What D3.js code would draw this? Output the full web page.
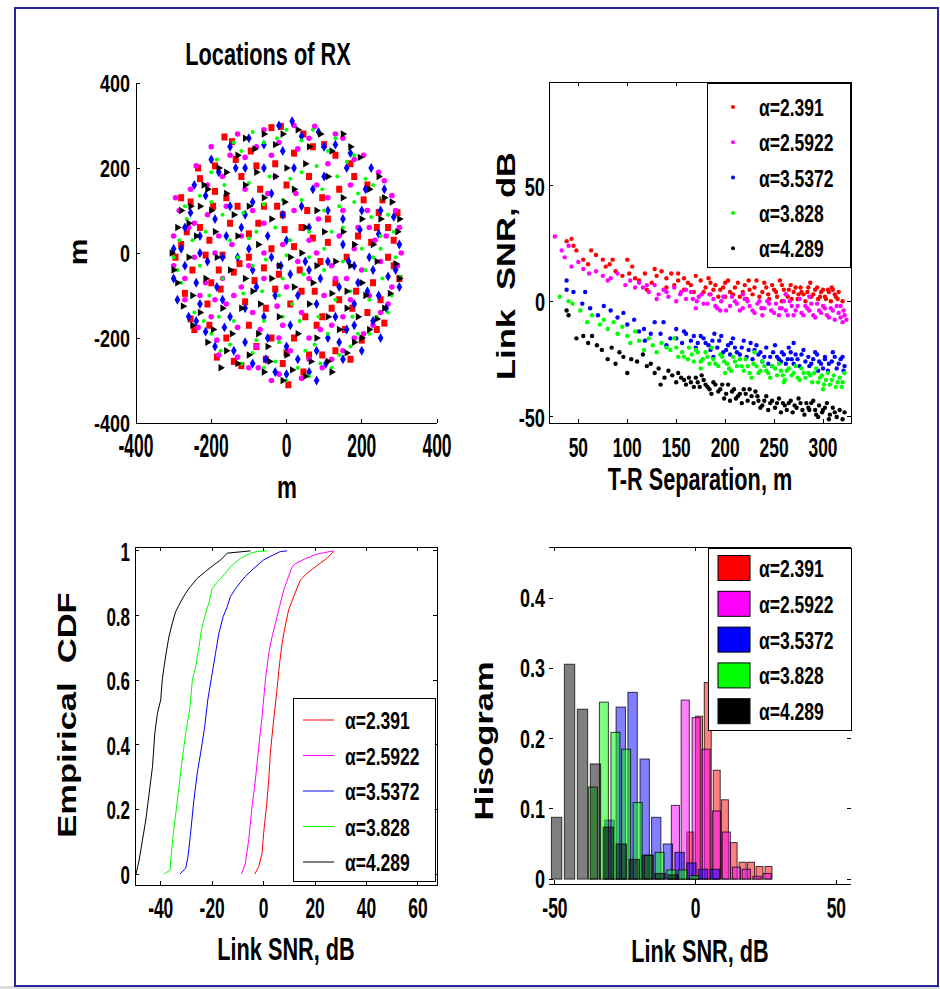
<!DOCTYPE html>
<html>
<head>
<meta charset="utf-8">
<script src="https://cdn.jsdelivr.net/npm/d3@7/dist/d3.min.js"></script>
<style>
  body { margin: 0; background: #fff; }
  text { font-family: "Liberation Sans", Arial, sans-serif; fill: #000; white-space: pre; }
</style>
</head>
<body>
<div id="chart"></div>
<script>
// series
const seriesNames = ['α=2.391', 'α=2.5922', 'α=3.5372', 'α=3.828', 'α=4.289'];
const seriesColors = ['#ff0000', '#ff00ff', '#0000ff', '#00ff00', '#000000'];

// RX locations, m  [x, y]
const rxRed = [[-165,273],[-145,262],[-95,240],[-40,295],[-15,298],[45,280],[100,255],[-235,200],[-230,175],[-190,145],[-195,110],[-160,130],[-120,180],[-70,150],[-25,110],[-5,55],[55,100],[95,130],[170,210],[215,160],[245,95],[270,60],[225,25],[190,40],[160,-10],[110,25],[70,35],[35,-40],[-20,-50],[-60,-35],[-100,-10],[-140,-45],[-180,-40],[-230,60],[-265,50],[-295,-10],[-270,-95],[-255,-155],[-245,-180],[-185,-245],[-140,-255],[-120,-265],[-80,-220],[-40,-200],[0,-235],[5,-310],[-10,-260],[45,-280],[80,-170],[120,-130],[155,-180],[200,-205],[240,-180],[260,-165],[230,-70],[270,-10],[300,-60],[295,95],[255,125],[130,-70],[75,-90],[-55,-130],[-110,-115],[-175,-85],[-150,70],[-100,45],[-40,10],[20,15],[140,150],[60,180],[0,160],[-75,70],[185,-90],[95,-240],[-210,-120],
  [-280,20],[-250,-40],[-215,-5],[-205,30],[-170,-5],[-125,-25],[-85,-65],[-30,-85],[10,-120],[50,-150],[95,-150],[140,-110],[175,-130],[215,-140],[250,-110],[285,-30],[285,30],[240,60],[205,125],[180,180],[130,230],[70,250],[20,235],[-30,210],[-80,205],[-135,220],[-190,205],[-255,120],[-280,130],[-205,-170],[-160,-200],[-100,-170],[-55,-250],[20,-200],[60,-240],[130,-230],[170,-250],[110,80],[40,60],[-10,90],[-60,110],[-130,110],[-200,-70],[90,-20],[40,-90]];
const rxMagenta = [[-240,205],[-200,250],[-130,280],[-60,290],[20,300],[75,298],[150,270],[205,230],[245,190],[280,135],[300,60],[305,0],[280,-80],[250,-140],[205,-190],[150,-230],[95,-270],[40,-295],[-20,-285],[-75,-270],[-130,-245],[-185,-205],[-235,-175],[-270,-110],[-300,-30],[-300,40],[-285,100],[-210,90],[-170,180],[-110,225],[-40,230],[30,245],[110,210],[170,160],[215,100],[235,30],[200,-40],[170,-110],[120,-170],[60,-200],[-10,-170],[-70,-180],[-130,-175],[-200,-150],[-215,-70],[-245,-10],[-190,0],[-145,20],[-90,100],[-30,180],[25,140],[85,80],[140,40],[120,-30],[60,-60],[0,-80],[-60,-60],[-120,-80],[-160,-120],[-90,-140],[-25,-125],[40,-140],[100,-100],[160,-60],[190,60],[150,100],[60,30],[-10,20],[-60,0],[-110,150],[-180,40],[250,-20],[265,40],[-255,150],[10,-230],
  [-295,130],[-260,60],[-230,-100],[-270,-60],[-180,-240],[-100,-270],[-40,-300],[60,-250],[120,-250],[180,-200],[230,-170],[270,-120],[295,-30],[290,100],[260,170],[180,220],[130,280],[60,270],[-20,260],[-80,250],[-150,230],[-210,160],[-160,110],[-120,40],[-60,70],[-20,-30],[30,-20],[80,0],[130,-60],[180,10],[220,60],[80,160],[20,100],[-50,140],[-100,-30],[-140,-100],[-190,-110],[-80,-220],[-20,-200],[90,-180],[150,-150],[220,-100],[-245,70],[110,130],[-170,-60]];
const rxBlue = [[-255,95],[-215,135],[-180,190],[-110,200],[-60,255],[15,310],[85,285],[130,255],[170,235],[225,200],[260,150],[285,85],[290,-40],[265,-130],[230,-160],[180,-170],[140,-210],[105,-260],[60,-280],[0,-285],[-55,-250],[-110,-210],[-165,-175],[-215,-185],[-260,-150],[-290,-110],[-300,-60],[-280,10],[-230,40],[-190,80],[-150,110],[-90,120],[-40,140],[-60,200],[20,200],[70,150],[110,100],[150,80],[195,55],[245,45],[220,-10],[180,-30],[140,-80],[90,-60],[50,-20],[0,30],[-50,40],[-120,60],[-170,-10],[-210,-20],[-240,-70],[-185,-80],[-130,-10],[-80,-80],[-30,-100],[30,-100],[80,-120],[130,-150],[180,-120],[215,-90],[245,-100],[60,60],[-10,90],[-90,-40],[-150,-150],[-60,-150],[10,-170],[110,-200],[40,110],[-135,200],[165,-20],[-15,-30],[270,-55],[-230,-120],
  [-300,10],[-270,60],[-245,160],[-200,220],[-150,250],[-100,270],[-20,300],[40,275],[100,250],[160,200],[210,150],[250,100],[300,20],[300,-80],[250,-200],[200,-230],[150,-250],[80,-300],[30,-250],[-30,-280],[-90,-260],[-140,-230],[-190,-220],[-240,-160],[-270,-30],[-230,0],[-160,40],[-100,10],[-40,-10],[10,-50],[60,-40],[110,-20],[150,20],[200,100],[230,-40],[190,-70],[160,-180],[80,-230],[0,-220],[-50,-200],[-110,-130],[-170,-110],[100,180],[-10,240],[-110,90]];
const rxGreen = [[-285,30],[-265,80],[-230,135],[-185,220],[-140,260],[-90,285],[-25,270],[40,265],[110,240],[160,215],[210,175],[255,130],[285,50],[300,-55],[280,-100],[240,-150],[190,-190],[140,-240],[90,-260],[30,-270],[-30,-255],[-90,-235],[-150,-215],[-200,-190],[-245,-140],[-280,-70],[-255,-10],[-215,50],[-170,90],[-115,95],[-60,115],[-10,125],[40,125],[95,150],[140,110],[180,120],[225,85],[250,10],[200,10],[150,-20],[100,-40],[45,-50],[-10,-60],[-65,-90],[-115,-95],[-170,-60],[-205,-100],[-140,-160],[-80,-205],[-20,-210],[35,-160],[85,-150],[130,-110],[175,-150],[220,-110],[210,-40],[120,50],[60,50],[0,-5],[-55,-15],[-100,35],[-165,160],[-100,165],[-45,180],[10,175],[80,205],[135,180],[190,140],[-230,-30],[-30,60],[15,-120],[255,-60],[-120,-260],[75,-215],[-200,190],
  [-300,-10],[-290,-40],[-270,110],[-250,-100],[-220,-160],[-175,-230],[-60,-270],[0,-300],[60,-290],[120,-270],[170,-220],[220,-190],[270,-140],[290,-10],[270,90],[230,160],[180,230],[130,270],[70,290],[0,290],[-60,260],[-120,240],[-200,120],[-150,30],[-90,-30],[-40,-60],[10,30],[60,-10],[100,10],[150,60],[170,-90],[110,-190],[50,-230],[-10,-150],[-60,-160],[-120,-130],[-180,-150],[-250,30],[-130,-10],[40,190],[100,100],[-80,50],[230,-10],[250,40],[-20,-100]];
const rxBlack = [[-305,0],[-290,60],[-255,110],[-220,160],[-180,200],[-130,230],[-85,245],[-30,255],[30,290],[90,280],[150,280],[195,225],[245,180],[280,120],[295,50],[290,-25],[275,-95],[240,-155],[200,-200],[160,-235],[110,-255],[65,-255],[15,-275],[-45,-255],[-100,-240],[-160,-230],[-210,-210],[-250,-170],[-275,-125],[-290,-70],[-240,40],[-200,100],[-160,140],[-110,160],[-60,130],[0,200],[50,210],[110,180],[150,130],[200,80],[250,80],[240,-20],[200,-70],[160,-90],[120,-95],[80,-30],[40,0],[-20,-30],[-75,20],[-130,40],[-185,-10],[-215,-60],[-170,-130],[-120,-130],[-70,-120],[-20,-150],[30,-190],[80,-200],[140,-180],[190,-150],[-250,-100],[-75,-190],[-145,-190],[-40,80],[-80,190],[-230,110],[50,60],[100,50],[130,-20],[180,20],[-175,-270],[20,-80],[-110,-60],[60,-120],[-5,120],
  [-300,-40],[-280,100],[-260,70],[-230,-140],[-195,-180],[-130,-260],[-60,-280],[-10,-300],[50,-290],[120,-280],[180,-210],[220,-180],[260,-130],[300,-60],[300,80],[260,130],[220,150],[170,250],[120,240],[60,250],[-10,280],[-60,280],[-110,270],[-160,190],[-210,150],[-190,50],[-150,-40],[-90,-90],[-40,-60],[10,-10],[70,-70],[110,-150],[160,-130],[210,-100],[230,20],[150,50],[80,100],[20,150],[-30,180],[-100,110],[-140,90],[-260,-10],[-50,-220],[0,-240],[170,-30]];

// link SNR vs T-R separation  [m, dB]
const snrRed = [[38,26],[43,27],[45,24],[48,22],[55,18],[63,22],[68,20],[75,18],[78,15],[82,16],[88,13],[95,11],[100,18],[102,12],[108,10],[112,9],[118,12],[125,8],[130,11],[135,13],[140,10],[145,12],[148,7],[152,9],[158,5],[162,8],[168,4],[175,9],[180,6],[185,3],[190,7],[195,5],[200,8],[205,4],[210,6],[215,2],[220,7],[225,5],[228,3],[232,9],[238,4],[242,6],[245,1],[250,5],[253,2],[258,7],[262,3],[265,5],[268,1],[272,6],[275,3],[278,4],[282,0],[285,6],[288,2],[292,5],[295,1],[298,4],[302,2],[305,5],[308,0],[312,3],[315,1],[310,5],[258,0],[222,1],[200,2],[185,8],[140,6],[120,5],
  [152,12],[158,10],[165,7],[170,11],[178,4],[183,10],[188,5],[193,2],[198,6],[203,9],[208,3],[213,8],[218,4],[224,9],[230,6],[235,2],[240,8],[244,3],[248,7],[252,4],[256,9],[260,5],[264,2],[267,7],[270,4],[274,1],[277,6],[280,3],[284,4],[287,8],[290,3],[294,6],[297,2],[300,5],[303,1],[306,4],[309,6],[313,2],[316,4],[320,0],[60,16],[85,18],[105,15],[128,14]];
const snrMagenta = [[26,28],[33,22],[36,19],[40,24],[43,15],[50,17],[55,14],[61,12],[68,13],[75,11],[80,9],[83,10],[90,12],[98,7],[103,9],[108,6],[112,8],[116,6],[122,4],[128,7],[132,3],[137,5],[142,2],[148,6],[154,3],[160,1],[165,4],[171,0],[176,3],[182,-1],[188,1],[192,-3],[198,2],[205,-2],[210,0],[215,-4],[220,1],[225,-2],[230,-5],[235,0],[240,-3],[245,-1],[250,-5],[256,-3],[260,0],[264,-6],[268,-2],[272,-4],[276,1],[280,-6],[284,-3],[288,-1],[292,-7],[296,-4],[300,-2],[304,-6],[308,-3],[312,-8],[316,-5],[320,-9],[322,-6],[318,-2],[286,2],[262,3],[238,-6],[218,3],[195,-4],[170,-3],[150,0],[130,1],
  [155,4],[160,5],[167,1],[173,2],[178,-1],[184,3],[190,-2],[196,0],[201,-4],[207,2],[212,-1],[218,-3],[223,0],[228,-4],[233,-1],[237,-3],[243,0],[247,-4],[252,-1],[255,-6],[258,-3],[262,-4],[266,0],[270,-6],[274,-2],[278,-5],[282,-2],[286,-4],[290,-6],[294,-1],[298,-5],[302,-3],[306,-7],[310,-4],[314,-2],[318,-7],[321,-4],[324,-8],[140,4],[120,7]];
const snrBlue = [[38,9],[38,5],[45,4],[57,4],[54,-1],[62,-3],[70,-6],[76,-2],[83,-4],[90,-7],[96,-5],[100,-10],[107,-8],[112,-13],[117,-12],[124,-14],[128,-9],[134,-14],[137,-9],[144,-16],[150,-12],[156,-18],[160,-14],[165,-17],[170,-20],[175,-15],[180,-18],[185,-21],[189,-14],[194,-17],[198,-22],[203,-19],[208,-16],[212,-22],[217,-20],[222,-24],[226,-18],[230,-21],[234,-23],[238,-26],[242,-20],[246,-24],[251,-19],[255,-25],[258,-22],[262,-27],[265,-20],[268,-25],[272,-23],[276,-28],[280,-21],[285,-24],[288,-27],[292,-22],[296,-26],[300,-29],[302,-24],[306,-27],[310,-22],[314,-29],[318,-25],[322,-28],[320,-24],[295,-30],[270,-18],[248,-28],[205,-23],[188,-24],[140,-19],[118,-17],
  [150,-16],[158,-13],[168,-15],[172,-18],[178,-16],[183,-19],[187,-17],[192,-20],[196,-15],[201,-21],[206,-18],[210,-20],[215,-23],[219,-17],[224,-21],[228,-25],[232,-19],[236,-22],[240,-24],[244,-27],[249,-22],[253,-24],[257,-26],[260,-23],[264,-25],[267,-22],[270,-27],[274,-25],[278,-23],[282,-26],[286,-28],[290,-25],[294,-23],[298,-27],[302,-25],[305,-30],[309,-26],[312,-24],[316,-27],[321,-30]];
const snrGreen = [[31,2],[40,0],[44,-1],[52,-4],[59,-9],[64,-6],[72,-10],[76,-8],[80,-12],[86,-9],[90,-14],[95,-11],[100,-15],[103,-18],[108,-13],[112,-17],[117,-21],[122,-16],[126,-19],[130,-22],[135,-18],[140,-20],[144,-21],[148,-16],[152,-24],[158,-24],[163,-20],[168,-26],[172,-22],[177,-25],[182,-24],[186,-20],[190,-27],[195,-23],[199,-26],[204,-29],[208,-24],[212,-28],[217,-28],[221,-25],[225,-31],[229,-27],[234,-31],[238,-26],[242,-30],[246,-33],[251,-29],[255,-27],[259,-32],[263,-30],[268,-32],[272,-28],[276,-34],[280,-31],[285,-31],[289,-35],[293,-29],[297,-33],[301,-36],[305,-31],[309,-34],[313,-37],[317,-33],[320,-35],[322,-31],[300,-38],[260,-35],[230,-22],[200,-31],[175,-29],
  [150,-20],[156,-22],[162,-25],[166,-23],[170,-21],[175,-26],[180,-22],[184,-27],[188,-25],[193,-28],[197,-24],[202,-27],[206,-30],[210,-26],[215,-25],[219,-30],[223,-28],[227,-33],[232,-28],[236,-30],[240,-28],[244,-31],[248,-28],[253,-32],[257,-30],[261,-34],[265,-29],[270,-31],[274,-33],[278,-29],[282,-33],[287,-32],[291,-31],[295,-35],[299,-32],[303,-34],[307,-36],[311,-32],[315,-35],[319,-37]];
const snrBlack = [[38,-4],[40,-6],[48,-16],[55,-15],[60,-18],[64,-15],[69,-19],[74,-21],[80,-25],[84,-20],[88,-27],[92,-22],[96,-24],[100,-31],[104,-25],[110,-26],[116,-23],[120,-28],[124,-27],[128,-31],[132,-29],[134,-36],[138,-33],[142,-30],[146,-32],[150,-35],[155,-33],[160,-36],[165,-35],[170,-33],[174,-37],[178,-34],[182,-37],[186,-40],[190,-36],[195,-38],[199,-42],[203,-36],[207,-39],[211,-42],[215,-40],[219,-38],[223,-43],[227,-41],[231,-39],[234,-43],[238,-45],[242,-41],[246,-44],[251,-46],[255,-42],[259,-44],[263,-47],[267,-43],[271,-45],[275,-42],[279,-47],[283,-44],[286,-47],[290,-43],[293,-49],[296,-45],[300,-47],[304,-44],[307,-49],[310,-46],[314,-50],[317,-47],[320,-51],[322,-48],
  [152,-31],[158,-34],[163,-33],[168,-37],[172,-35],[176,-32],[180,-36],[184,-38],[188,-35],[193,-39],[197,-36],[201,-40],[205,-43],[209,-38],[213,-41],[217,-44],[221,-40],[225,-38],[229,-44],[233,-41],[236,-46],[240,-43],[244,-47],[248,-43],[253,-44],[257,-48],[261,-45],[265,-44],[269,-48],[273,-46],[277,-44],[281,-49],[285,-46],[288,-44],[292,-47],[295,-50],[299,-48],[302,-46],[306,-51],[312,-48]];

// empirical CDF  [dB, F]
const cdfRed = [[-3.4,0],[-1.9,0.023],[-0.6,0.064],[0.0,0.126],[1.1,0.208],[2.0,0.291],[2.6,0.374],[3.9,0.477],[5.2,0.570],[6.2,0.652],[7.2,0.714],[8.1,0.755],[9.7,0.817],[11.7,0.859],[14.3,0.910],[16.9,0.931],[19.4,0.946],[22.0,0.962],[24.6,0.977],[26.6,0.993],[27.2,1]];
const cdfMagenta = [[-8.6,0],[-7.1,0.033],[-5.8,0.105],[-4.5,0.208],[-3.2,0.291],[-1.9,0.394],[-0.6,0.487],[0.7,0.601],[2.0,0.683],[3.3,0.735],[4.6,0.776],[6.2,0.828],[7.8,0.879],[9.7,0.921],[10.9,0.946],[11.4,0.953],[12.2,0.960],[16.0,0.975],[20.7,0.990],[24.6,0.996],[27.0,1]];
const cdfBlue = [[-32.5,0],[-30.3,0.018],[-29.4,0.054],[-28.4,0.126],[-27.1,0.229],[-25.8,0.312],[-24.5,0.374],[-22.9,0.456],[-21.7,0.539],[-20.0,0.621],[-18.7,0.683],[-17.4,0.745],[-15.7,0.797],[-14.1,0.828],[-12.9,0.859],[-10.3,0.890],[-7.1,0.921],[-3.8,0.946],[0.0,0.972],[3.9,0.988],[6.5,0.998],[9.1,1]];
const cdfGreen = [[-38.7,0],[-36.4,0.012],[-36.1,0.043],[-35.1,0.126],[-33.5,0.229],[-32.0,0.332],[-30.3,0.435],[-28.6,0.518],[-27.7,0.601],[-26.4,0.642],[-25.1,0.704],[-24.2,0.755],[-22.9,0.797],[-21.3,0.838],[-20.0,0.884],[-17.4,0.910],[-14.8,0.931],[-12.9,0.951],[-9.0,0.977],[-5.1,0.993],[-2.5,0.998],[1.4,1]];
const cdfBlack = [[-49.6,0],[-48.4,0.043],[-47.1,0.105],[-45.8,0.167],[-44.5,0.25],[-43.2,0.332],[-42.3,0.435],[-41.3,0.497],[-40.0,0.539],[-39.4,0.601],[-38.7,0.642],[-37.7,0.693],[-36.8,0.735],[-35.5,0.776],[-34.2,0.812],[-32.2,0.843],[-30.3,0.869],[-28.4,0.890],[-25.8,0.915],[-22.6,0.936],[-19.3,0.957],[-16.7,0.972],[-14.1,0.993],[-5.1,1]];

// histogram: bin centres, dB, and fractions
const histRedX = [-1.9,1.2,4.3,7.5,10.4,13.5,16.7,19.7,22.7,25.9];
const histRedY = [0.067,0.232,0.280,0.155,0.113,0.052,0.024,0.024,0.018,0.018];
const histMagentaX = [-7.2,-3.7,0.2,3.7,7.4,10.9,14.5,18.0,21.8,25.4];
const histMagentaY = [0.105,0.255,0.230,0.185,0.097,0.067,0.017,0.014,0.004,0.008];
const histBlueX = [-30.6,-26.6,-22.4,-18.1,-14.0,-9.85,-5.7,-1.5,2.6,6.8];
const histBlueY = [0.084,0.245,0.266,0.171,0.088,0.050,0.038,0.023,0.014,0.014];
const histGreenX = [-36.5,-32.6,-28.5,-24.7,-20.6,-16.6,-12.8,-8.6,-4.6,-0.6];
const histGreenY = [0.131,0.252,0.209,0.185,0.109,0.034,0.038,0.013,0.013,0.005];
const histBlackX = [-49.4,-44.8,-40.2,-35.6,-31.0,-26.4,-21.8,-17.2,-12.6,-8.0];
const histBlackY = [0.088,0.306,0.242,0.164,0.074,0.050,0.028,0.034,0.008,0.006];

// tick values
const locTicks = [-400, -200, 0, 200, 400];
const sepTicksX = [50, 100, 150, 200, 250, 300];
const sepTicksY = [-50, 0, 50];
const cdfTicksX = [-40, -20, 0, 20, 40, 60];
const cdfTicksY = [0, 0.2, 0.4, 0.6, 0.8, 1];
const histTicksX = [-50, 0, 50];
const histTicksY = [0, 0.1, 0.2, 0.3, 0.4];

const rxData = [rxRed, rxMagenta, rxBlue, rxGreen, rxBlack];
const snrData = [snrRed, snrMagenta, snrBlue, snrGreen, snrBlack];
const cdfData = [cdfRed, cdfMagenta, cdfBlue, cdfGreen, cdfBlack];
const histX = [histRedX, histMagentaX, histBlueX, histGreenX, histBlackX];
const histY = [histRedY, histMagentaY, histBlueY, histGreenY, histBlackY];

const width = 940, height = 989;
const svg = d3.select('#chart').append('svg')
  .attr('width', width).attr('height', height);

svg.append('rect').attr('width', width).attr('height', height).attr('fill', '#fff');
svg.append('rect').attr('x', 0).attr('y', 986).attr('width', width).attr('height', 3).attr('fill', '#dcdcdc');
svg.append('rect').attr('x', 15).attr('y', 8).attr('width', 923).attr('height', 978)
  .attr('fill', 'none').attr('stroke', '#24249c').attr('stroke-width', 2);

// narrow text, the figure is squeezed sideways
function label(g, x, y, str, size, sx, anchor, weight, rot) {
  return g.append('text')
    .attr('transform', 'translate(' + x + ',' + y + ') scale(' + sx + ',1)' + (rot ? ' rotate(-90)' : ''))
    .attr('text-anchor', anchor || 'middle')
    .style('font-size', size + 'px')
    .style('font-weight', weight || 'bold')
    .text(str);
}

function line(g, x1, y1, x2, y2) {
  g.append('line').attr('x1', x1).attr('y1', y1).attr('x2', x2).attr('y2', y2)
    .attr('stroke', '#000').attr('stroke-width', 1).attr('shape-rendering', 'crispEdges');
}

// inward ticks, mirrored when the axes are boxed
function ticks(g, x, y, tx, ty, mirror) {
  const [x0, x1] = x.range(), [y0, y1] = y.range();
  tx.forEach(t => {
    line(g, x(t), y0, x(t), y0 - 4);
    if (mirror) line(g, x(t), y1, x(t), y1 + 4);
  });
  ty.forEach(t => {
    line(g, x0, y(t), x0 + 4, y(t));
    if (mirror) line(g, x1, y(t), x1 - 4, y(t));
  });
}

/**
 * Locations of RX
 */
(function() {
  const g = svg.append('g');
  const x = d3.scaleLinear().domain([-400, 400]).range([136, 437]);
  const y = d3.scaleLinear().domain([-400, 400]).range([423, 83]);

  const marks = [
    (s, d, c) => s.append('rect').attr('x', x(d[0]) - 3).attr('y', y(d[1]) - 3.5).attr('width', 6).attr('height', 7).attr('fill', c),
    (s, d, c) => s.append('circle').attr('cx', x(d[0])).attr('cy', y(d[1])).attr('r', 2.8).attr('fill', c),
    (s, d, c) => s.append('path').attr('d', d3.symbol(d3.symbolDiamond, 28)()).attr('transform', 'translate(' + x(d[0]) + ',' + y(d[1]) + ')').attr('fill', c),
    (s, d, c) => s.append('circle').attr('cx', x(d[0])).attr('cy', y(d[1])).attr('r', 2).attr('fill', c),
    (s, d, c) => s.append('path').attr('d', d3.symbol(d3.symbolTriangle, 24)()).attr('transform', 'translate(' + x(d[0]) + ',' + y(d[1]) + ') rotate(90)').attr('fill', c)
  ];
  rxData.forEach((pts, i) => {
    const s = g.append('g');
    pts.forEach(d => marks[i](s, d, seriesColors[i]));
  });

  line(g, 136, 83, 136, 423);
  line(g, 136, 423, 437, 423);
  ticks(g, x, y, locTicks, locTicks, false);

  locTicks.forEach(t => label(g, 130, y(t) + 9, t, 24, 0.75, 'end'));
  locTicks.forEach(t => label(g, x(t), 457, t, 33, 0.53, 'middle'));
  label(g, 268, 65, 'Locations of RX', 32, 0.68);
  label(g, 287, 498, 'm', 32, 0.7);
  label(g, 87, 252, 'm', 30, 0.85, 'middle', 'bold', true);
})();

/**
 * SNR vs T-R separation
 */
(function() {
  const g = svg.append('g');
  const x = d3.scaleLinear().domain([20, 328.6]).range([549, 851]);
  const y = d3.scaleLinear().domain([-52.6, 94.8]).range([423, 82]);

  snrData.forEach((pts, i) => {
    g.append('g').selectAll('circle').data(pts).enter().append('circle')
      .attr('cx', d => x(d[0])).attr('cy', d => y(d[1])).attr('r', 2.2)
      .attr('fill', seriesColors[i]);
  });

  g.append('rect').attr('x', 549).attr('y', 82).attr('width', 302).attr('height', 341)
    .attr('fill', 'none').attr('stroke', '#000').attr('shape-rendering', 'crispEdges');
  ticks(g, x, y, sepTicksX, sepTicksY, true);
  sepTicksY.forEach(t => label(g, 545, y(t) + 10, t, 26, 0.7, 'end'));
  sepTicksX.forEach(t => label(g, x(t), 457, t, 28, 0.62, 'middle'));
  label(g, 700, 490, 'T-R Separation, m', 31, 0.7);
  label(g, 515, 266, 'Link  SNR, dB', 34.5, 0.75, 'middle', 'bold', true);

  const lg = g.append('g');
  lg.append('rect').attr('x', 707).attr('y', 83).attr('width', 143).attr('height', 184)
    .attr('fill', '#fff').attr('stroke', '#000').attr('shape-rendering', 'crispEdges');
  seriesNames.forEach((s, i) => {
    const cy = 107 + i * 35.3;
    lg.append('circle').attr('cx', 733).attr('cy', cy).attr('r', 2).attr('fill', seriesColors[i]);
    label(lg, 759, cy + 9, s, 24, 0.73, 'start');
  });
})();

/**
 * Empirical CDF
 */
(function() {
  const g = svg.append('g');
  const x = d3.scaleLinear().domain([-50, 67.4]).range([135, 437]);
  const y = d3.scaleLinear().domain([-0.034, 1.012]).range([885, 547]);
  const path = d3.line().x(d => x(d[0])).y(d => y(d[1]));

  cdfData.forEach((pts, i) => {
    g.append('path').attr('d', path(pts)).attr('fill', 'none')
      .attr('stroke', seriesColors[i]).attr('stroke-width', 1);
  });

  g.append('rect').attr('x', 135).attr('y', 547).attr('width', 302).attr('height', 338)
    .attr('fill', 'none').attr('stroke', '#000').attr('shape-rendering', 'crispEdges');
  ticks(g, x, y, cdfTicksX, cdfTicksY, true);
  cdfTicksY.forEach(t => label(g, 130, y(t) + 10, t, 25, 0.68, 'end'));
  cdfTicksX.forEach(t => label(g, x(t), 918, t, 29, 0.6, 'middle'));
  label(g, 286, 960, 'Link SNR, dB', 31, 0.7);
  label(g, 76, 715, 'Empirical  CDF', 34.5, 0.73, 'middle', 'bold', true);

  const lg = g.append('g');
  lg.append('rect').attr('x', 293).attr('y', 698).attr('width', 142).attr('height', 183)
    .attr('fill', '#fff').attr('stroke', '#000').attr('shape-rendering', 'crispEdges');
  seriesNames.forEach((s, i) => {
    const cy = 720 + i * 35.5;
    lg.append('line').attr('x1', 303).attr('x2', 334).attr('y1', cy).attr('y2', cy)
      .attr('stroke', seriesColors[i]).attr('stroke-width', 1);
    label(lg, 345, cy + 9, s, 24, 0.73, 'start');
  });
})();

/**
 * Histogram
 */
(function() {
  const g = svg.append('g');
  const x = d3.scaleLinear().domain([-52.1, 55.2]).range([549, 851]);
  const y = d3.scaleLinear().domain([-0.007, 0.473]).range([884, 547]);

  histX.forEach((cs, i) => {
    const w = 0.8 * (cs[cs.length - 1] - cs[0]) / (cs.length - 1);
    g.append('g').selectAll('rect').data(cs).enter().append('rect')
      .attr('x', d => x(d - w / 2))
      .attr('width', d => x(d + w / 2) - x(d - w / 2))
      .attr('y', (d, j) => y(histY[i][j]))
      .attr('height', (d, j) => y(0) - y(histY[i][j]))
      .attr('fill', seriesColors[i]).attr('fill-opacity', 0.5)
      .attr('stroke', '#000').attr('stroke-opacity', 0.75).attr('stroke-width', 1);
  });

  line(g, 549, 547, 851, 547);
  line(g, 549, 884, 851, 884);
  ticks(g, x, y, histTicksX, histTicksY, true);
  histTicksY.forEach(t => label(g, 545, y(t) + 9, t, 25, 0.72, 'end'));
  histTicksX.forEach(t => label(g, x(t), 918, t, 29, 0.6, 'middle'));
  label(g, 700, 962, 'Link SNR, dB', 31, 0.7);
  label(g, 493, 741, 'Hisogram', 34.5, 0.75, 'middle', 'bold', true);

  const lg = g.append('g');
  lg.append('rect').attr('x', 708).attr('y', 548).attr('width', 143).attr('height', 182)
    .attr('fill', '#fff').attr('stroke', '#000').attr('shape-rendering', 'crispEdges');
  seriesNames.forEach((s, i) => {
    const cy = 568 + i * 35.8;
    lg.append('rect').attr('x', 718).attr('y', cy - 12.5).attr('width', 32).attr('height', 25)
      .attr('fill', seriesColors[i]).attr('stroke', '#000');
    label(lg, 759, cy + 9, s, 24, 0.73, 'start');
  });
})();
</script>
</body>
</html>
